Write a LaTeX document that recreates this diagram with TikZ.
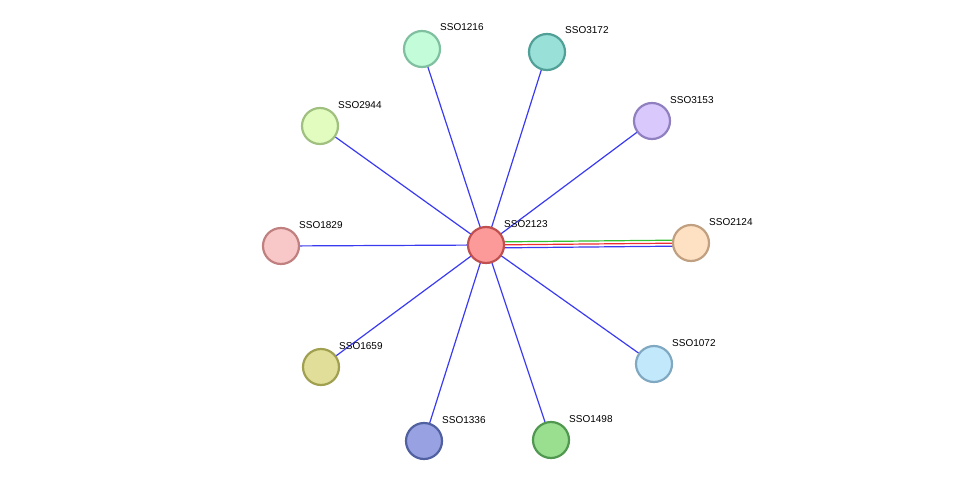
\documentclass[tikz,border=0pt]{standalone}
\usepackage{fontspec}
\setmainfont{Liberation Sans}
\usetikzlibrary{calc}
\definecolor{edgeblue}{HTML}{3A3AF0}
\definecolor{edgegreen}{HTML}{30C030}
\definecolor{edgered}{HTML}{F03030}
\definecolor{f2123}{HTML}{FC9A9A}\definecolor{d2123}{HTML}{C05050}
\definecolor{f1216}{HTML}{C2FCD8}\definecolor{d1216}{HTML}{80C0A0}
\definecolor{f3172}{HTML}{98E0D8}\definecolor{d3172}{HTML}{50A098}
\definecolor{f3153}{HTML}{D8C8FC}\definecolor{d3153}{HTML}{9080C0}
\definecolor{f2944}{HTML}{E2FCC0}\definecolor{d2944}{HTML}{A0C080}
\definecolor{f1829}{HTML}{F8C8C8}\definecolor{d1829}{HTML}{C08080}
\definecolor{f2124}{HTML}{FEE0C2}\definecolor{d2124}{HTML}{C0A080}
\definecolor{f1659}{HTML}{E0DE98}\definecolor{d1659}{HTML}{A0A050}
\definecolor{f1072}{HTML}{C2E8FC}\definecolor{d1072}{HTML}{80A8C0}
\definecolor{f1336}{HTML}{98A2E2}\definecolor{d1336}{HTML}{5060A0}
\definecolor{f1498}{HTML}{9ADE90}\definecolor{d1498}{HTML}{509850}
\tikzset{
  prot/.style={circle, minimum size=36pt, inner sep=0pt, line width=2.2pt, fill=f#1, draw=d#1},
  lbl/.style={font=\fontsize{10}{12}\selectfont, anchor=base west, inner sep=0pt},
  link/.style={draw=edgeblue, line width=1.2pt}
}
\begin{document}
\begin{tikzpicture}[x=1pt,y=-1pt]
\useasboundingbox (0,0) rectangle (976,487);
% edges first
\coordinate (c) at (486,245);
\foreach \x/\y in {422/49,547/52,652/121,320/126,281/246,321/367,654/364,424/441,551/440}
  \draw[link] (c) -- (\x,\y);
\draw[edgegreen, line width=1.2pt] ($(c)+(0,-3)$) -- (691,240);
\draw[edgered, line width=1.2pt] (c) -- (691,243);
\draw[link] ($(c)+(0,3)$) -- (691,246);
% proteins
\foreach \n/\x/\y in {2123/486/245,1216/422/49,3172/547/52,3153/652/121,2944/320/126,1829/281/246,2124/691/243,1659/321/367,1072/654/364,1336/424/441,1498/551/440}
{
  \node[prot=\n] (p\n) at (\x,\y) {};
  \node[lbl] at ($(p\n.center)+(18,-18)$) {SSO\n};
}
\end{tikzpicture}
\end{document}
